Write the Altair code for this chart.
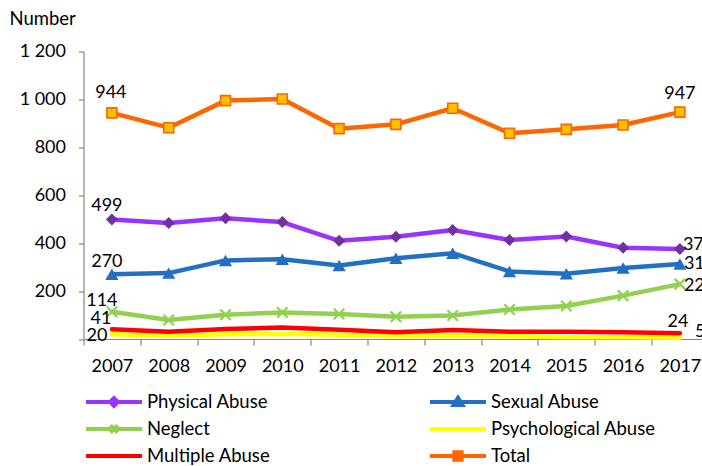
import altair as alt
import pandas as pd

# ---------------- data ----------------
years = [2007, 2008, 2009, 2010, 2011, 2012, 2013, 2014, 2015, 2016, 2017]
series_names = ["Physical Abuse", "Sexual Abuse", "Neglect",
                "Psychological Abuse", "Multiple Abuse", "Total"]
physical = [499, 484, 504, 488, 410, 427, 455, 413, 428, 381, 376]
sexual = [270, 275, 328, 333, 307, 337, 358, 282, 272, 296, 313]
neglect = [114, 79, 101, 111, 104, 93, 98, 123, 138, 181, 229]
psychological = [20, 14, 20, 22, 18, 11, 14, 11, 7, 7, 5]
multiple = [41, 30, 42, 48, 39, 28, 38, 30, 30, 28, 24]
total = [944, 882, 995, 1002, 878, 896, 963, 859, 875, 893, 947]
y_ticks = [0, 200, 400, 600, 800, 1000, 1200]

all_values = [physical, sexual, neglect, psychological, multiple, total]
rows = []
for name, vals in zip(series_names, all_values):
    for yr, v in zip(years, vals):
        rows.append({"series": name, "year": yr, "value": v})
df = pd.DataFrame(rows)

# ---------------- styles ----------------
FONT = "Lato"
FS = 18
AXIS_GRAY = "#868686"
line_colors = ["#9933FF", "#2170C4", "#92D050", "#FFFF00", "#FF0000", "#FF6600"]
legend_fills = ["#7030A0", "#2170C4", "#92D050", "transparent", "transparent", "#FFC000"]
legend_paths = [
    "M-1,0H1M0,-0.14L0.14,0L0,0.14L-0.14,0Z",
    "M-1,0H1M0,-0.15L0.16,0.11L-0.16,0.11Z",
    "M-1,0H1M-0.13,-0.13L0.13,0.13M-0.13,0.13L0.13,-0.13",
    "M-1,0H1",
    "M-1,0H1",
    "M-1,0H1M-0.13,-0.13H0.13V0.13H-0.13Z",
]
# legend is laid out column by column: order entries so rows read as in the reference
legend_order = [0, 2, 4, 1, 3, 5]
leg_domain = [series_names[i] for i in legend_order]
leg_strokes = [line_colors[i] for i in legend_order]
leg_fills = [legend_fills[i] for i in legend_order]
leg_paths = [legend_paths[i] for i in legend_order]

marker_styles = {
    "Physical Abuse": dict(shape="diamond", filled=True, size=144, color="#7030A0"),
    "Sexual Abuse": dict(shape="triangle-up", filled=True, size=175, color="#2170C4"),
    "Neglect": dict(shape="M-1,-1L1,1M-1,1L1,-1", filled=False, size=110,
                    color="#92D050", strokeWidth=2.2),
    "Total": dict(shape="square", filled=True, size=100, fill="#FFC000",
                  stroke="#FF6600", strokeWidth=1.6),
}
# label offsets (first / last year) : (align, dx, dy)
label_styles = {
    ("Total", 2007): ("center", -1, -20),
    ("Physical Abuse", 2007): ("center", -5, -13),
    ("Sexual Abuse", 2007): ("center", -5, -12),
    ("Neglect", 2007): ("center", -10, -11),
    ("Multiple Abuse", 2007): ("center", -11, -10),
    ("Psychological Abuse", 2007): ("center", -15, 1.5),
    ("Total", 2017): ("center", 0, -18),
    ("Physical Abuse", 2017): ("left", 3, -4),
    ("Sexual Abuse", 2017): ("left", 4, 0),
    ("Neglect", 2017): ("left", 4, 2),
    ("Multiple Abuse", 2017): ("center", -2, -11),
    ("Psychological Abuse", 2017): ("left", 15, -6),
}

LEFT, TOP = 83.5, 51.5
W = 702 - LEFT
H = 339 - TOP
STEP = 56.8

x_scale = alt.Scale(domain=[2006.5, 2006.5 + W / STEP], nice=False, zero=False)
y_scale = alt.Scale(domain=[0, 1200], nice=False, zero=True)

x_enc = alt.X(
    "year:Q", scale=x_scale,
    axis=alt.Axis(
        values=[yr - 0.5 for yr in years],
        labelExpr="toString(datum.value + 0.5)",
        labelOffset=STEP / 2, tickSize=6, labelPadding=12,
        domainColor=AXIS_GRAY, tickColor=AXIS_GRAY, domainWidth=1.2, tickWidth=1.2,
        labelFlush=False, labelOverlap=False, grid=False, title=None,
        labelFont=FONT, labelFontSize=FS, labelColor="black",
    ),
)
y_enc = alt.Y(
    "value:Q", scale=y_scale,
    axis=alt.Axis(
        values=y_ticks,
        labelExpr="datum.value == 0 ? '' : replace(format(datum.value, ','), ',', ' ')",
        tickSize=5, labelPadding=13,
        domainColor=AXIS_GRAY, tickColor=AXIS_GRAY, domainWidth=1.2, tickWidth=1.2,
        labelFlush=False, labelOverlap=False, grid=False,
        labelFont=FONT, labelFontSize=FS, labelColor="black",
        title="Number", titleAngle=0, titleX=-74.5, titleY=-33.5,
        titleAlign="left", titleBaseline="middle", titleFont=FONT,
        titleFontSize=FS + 0.5, titleFontWeight="normal", titleColor="black",
    ),
)

base = alt.Chart(df)
layers = []
for name, col in zip(series_names, line_colors):
    sub = base.transform_filter(alt.datum.series == name)
    layers.append(
        sub.mark_line(strokeWidth=4.5, strokeCap="round", strokeJoin="round", color=col)
        .encode(x=x_enc, y=y_enc)
    )
    if name in marker_styles:
        layers.append(sub.mark_point(opacity=1, **marker_styles[name]).encode(x=x_enc, y=y_enc))

for (name, yr), (align, dx, dy) in label_styles.items():
    layers.append(
        base.transform_filter((alt.datum.series == name) & (alt.datum.year == yr))
        .mark_text(align=align, baseline="middle", dx=dx, dy=dy,
                   font=FONT, fontSize=FS, color="black")
        .encode(x=x_enc, y=y_enc, text=alt.Text("value:Q", format="d"))
    )

legend = alt.Legend(
    title=None, orient="none", legendX=0.5, legendY=337, columns=2,
    columnPadding=157, rowPadding=0, clipHeight=27, symbolSize=3136,
    symbolStrokeWidth=4, symbolOffset=0, labelOffset=3, padding=0,
    labelFont=FONT, labelFontSize=FS + 0.5, labelColor="black", labelLimit=400,
)
legend_layer = base.transform_filter("false").mark_point(
    filled=True, size=3136, strokeWidth=4, opacity=1
).encode(
    x=x_enc, y=y_enc,
    stroke=alt.Stroke("series:N", scale=alt.Scale(domain=leg_domain, range=leg_strokes), legend=legend),
    fill=alt.Fill("series:N", scale=alt.Scale(domain=leg_domain, range=leg_fills), legend=legend),
    shape=alt.Shape("series:N", scale=alt.Scale(domain=leg_domain, range=leg_paths), legend=legend),
)
layers.append(legend_layer)

chart = alt.layer(*layers).properties(
    width=W, height=H,
    autosize=alt.AutoSizeParams(type="none"),
    padding={"left": LEFT, "top": TOP, "right": 0, "bottom": 466 - 339},
    background="white",
).configure_view(stroke=None)

chart.save("out.html", embed_options={"renderer": "svg", "actions": False})
